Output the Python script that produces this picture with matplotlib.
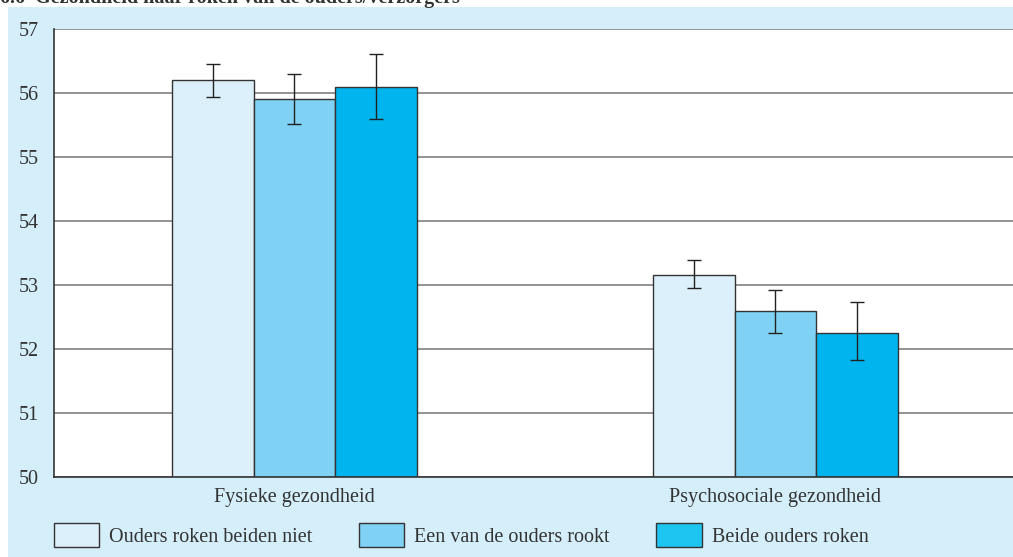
import numpy as np
from matplotlib import pyplot as plt
from matplotlib.patches import Rectangle, Patch

plt.rcParams['font.family'] = ['Liberation Serif', 'DejaVu Serif']

# Data
categories = ['Fysieke gezondheid', 'Psychosociale gezondheid']
series = ['Ouders roken beiden niet', 'Een van de ouders rookt', 'Beide ouders roken']
means = [
    [56.20, 53.16],
    [55.91, 52.59],
    [56.09, 52.25],
]
err_low = [
    [55.94, 52.95],
    [55.52, 52.25],
    [55.59, 51.83],
]
err_high = [
    [56.45, 53.39],
    [56.30, 52.92],
    [56.61, 52.73],
]
yticks = [50, 51, 52, 53, 54, 55, 56, 57]
colors = ['#dbf0fb', '#80d2f5', '#00b5ed']
legend_colors = ['#dbf0fb', '#80d2f5', '#1ec5f0']
title = '6.6  Gezondheid naar roken van de ouders/verzorgers'

fs = 14.5

fig = plt.figure(figsize=(10.13, 5.57), dpi=100)
fig.patch.set_facecolor('white')
# light blue panel behind the chart
fig.patches.append(Rectangle((8 / 1013, 0), 1, 1 - 7 / 557, transform=fig.transFigure,
                             facecolor='#d4eefa', edgecolor='none', zorder=-10))

ax = fig.add_axes([54 / 1013, 1 - 477 / 557, 1 - 54 / 1013, (477 - 29) / 557])
ax.set_facecolor('white')

x = np.arange(len(categories))
width = 0.17
for i, name in enumerate(series):
    pos = x + (i - 1) * width
    m = np.array(means[i])
    lo = m - np.array(err_low[i])
    hi = np.array(err_high[i]) - m
    ax.bar(pos, m - 50, bottom=50, width=width, color=colors[i],
           edgecolor='#333333', linewidth=1, zorder=2, label=name)
    ax.errorbar(pos, m, yerr=[lo, hi], fmt='none', ecolor='#222222',
                elinewidth=1, capsize=5, capthick=1, zorder=3)

ax.set_xlim(-0.5, 1.494)
ax.set_ylim(50, 57)
ax.set_yticks(yticks)
ax.set_xticks(x)
ax.set_xticklabels(categories)
ax.yaxis.grid(True, color='#808080', linewidth=1.2, zorder=0)
ax.set_axisbelow(True)
ax.tick_params(axis='both', length=0, labelsize=fs, colors='#333333')
ax.tick_params(axis='y', pad=11)
ax.tick_params(axis='x', pad=8)
for side in ['right', 'top']:
    ax.spines[side].set_visible(False)
for side in ['left', 'bottom']:
    ax.spines[side].set_color('#333333')
    ax.spines[side].set_linewidth(1.2)

handles = [Patch(facecolor=c, edgecolor='#333333', linewidth=1) for c in legend_colors]
fig.legend(handles, series, loc='lower left', bbox_to_anchor=(44 / 1013, 0.0),
           ncol=3, frameon=False, fontsize=fs, handlelength=2.25, handleheight=1.45,
           handletextpad=0.5, columnspacing=2.3, borderaxespad=0.1,
           labelcolor='#333333')

fig.text(0.0, 1 - 3 / 557, title, fontsize=fs, fontweight='bold',
         color='#333333', va='baseline', ha='left')

fig.savefig('out.png', dpi=100)
